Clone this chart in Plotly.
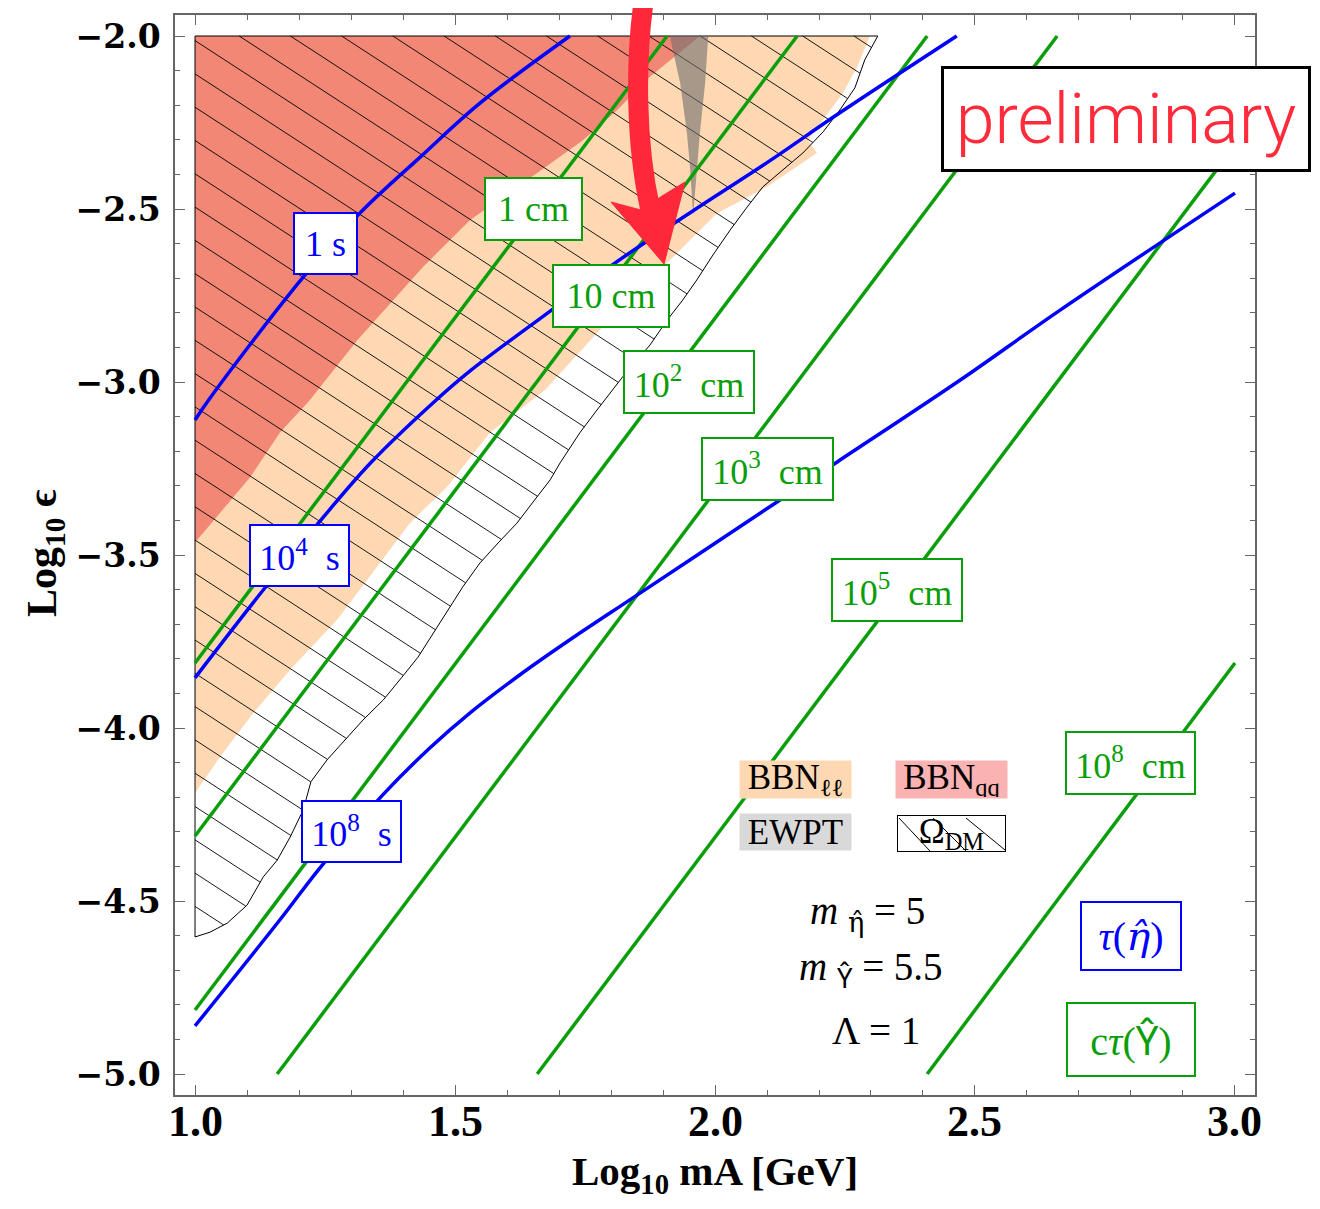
import numpy as np
import plotly.graph_objects as go

# ---------------- figure geometry ----------------
# the page body has an 8px margin, so the figure is 16px smaller than the window
OFF = 8
W, H = 1320 - 2 * OFF, 1209 - 2 * OFF
PLOT_L, PLOT_T, PLOT_W, PLOT_H = 175, 15, 1080, 1080   # plot area in window pixels
ML, MT = PLOT_L - OFF, PLOT_T - OFF
MR, MB = W - ML - PLOT_W, H - MT - PLOT_H

x_range = [0.9615, 3.0385]
y_range = [-5.0607, -1.9393]

# ---------------- data ----------------
# BBN_ll excluded region (peach)
bbn_ll_x = [1.0, 2.298, 2.273, 2.246, 2.217, 2.179, 2.196, 2.100, 2.004, 1.927, 1.875, 1.817,
            1.760, 1.673, 1.567, 1.485, 1.413, 1.350, 1.273, 1.183, 1.112, 1.048, 1.0]
bbn_ll_y = [-2.0, -2.0, -2.090, -2.165, -2.223, -2.301, -2.338, -2.436, -2.512, -2.627, -2.705, -2.786,
            -2.879, -3.023, -3.147, -3.303, -3.408, -3.535, -3.688, -3.832, -3.957, -4.084, -4.188]

# BBN_qq excluded region (salmon)
bbn_qq_x = [1.0, 1.971, 1.875, 1.812, 1.746, 1.658, 1.529, 1.438, 1.312, 1.221, 1.163, 1.106, 1.004, 1.0]
bbn_qq_y = [-2.0, -2.0, -2.118, -2.214, -2.301, -2.396, -2.532, -2.668, -2.879, -3.052, -3.147, -3.275, -3.457, -3.460]

# EWPT sliver (gray)
ewpt_x = [1.913, 1.933, 1.946, 1.952, 1.958, 1.965, 1.971, 1.981, 1.987]
ewpt_y = [-2.0, -2.136, -2.280, -2.379, -2.517, -2.379, -2.280, -2.136, -2.0]

# Omega_DM region (hatched)
odm_x = [1.0, 2.313, 2.288, 2.269, 2.240, 2.208, 2.169, 2.131, 2.092, 2.062, 2.029, 1.996, 1.965,
         1.938, 1.908, 1.875, 1.821, 1.773, 1.740, 1.702, 1.683, 1.650, 1.619, 1.583, 1.548, 1.515,
         1.487, 1.458, 1.429, 1.398, 1.362, 1.323, 1.288, 1.254, 1.223, 1.208, 1.183, 1.158, 1.131,
         1.100, 1.062, 1.029, 1.0]
odm_y = [-2.0, -2.0, -2.069, -2.150, -2.214, -2.277, -2.338, -2.387, -2.436, -2.494, -2.561, -2.633,
         -2.705, -2.763, -2.821, -2.893, -2.988, -3.081, -3.147, -3.234, -3.283, -3.347, -3.408, -3.465,
         -3.523, -3.592, -3.659, -3.725, -3.795, -3.853, -3.919, -3.977, -4.035, -4.092, -4.155, -4.237,
         -4.315, -4.382, -4.431, -4.512, -4.564, -4.590, -4.604]

# c*tau(Upsilon) contours (green straight lines): endpoints
ctau_names = ["1\u00a0cm", "10\u00a0cm", "10<sup>2</sup>\u00a0 cm", "10<sup>3</sup>\u00a0 cm",
              "10<sup>5</sup>\u00a0 cm", "10<sup>8</sup>\u00a0 cm"]
ctau_x0 = [1.0, 1.0, 1.0, 1.158, 1.658, 2.408]
ctau_y0 = [-3.812, -4.312, -4.815, -5.0, -5.0, -5.0]
ctau_x1 = [1.908, 2.158, 2.408, 2.658, 3.0, 3.0]
ctau_y1 = [-2.0, -2.0, -2.0, -2.0, -2.316, -3.812]
ctau_lab_x = [1.65, 1.80, 1.95, 2.10, 2.35, 2.80]
ctau_lab_y = [-2.50, -2.75, -3.00, -3.25, -3.60, -4.10]
ctau_lab_w = [99, 118, 132, 133, 132, 131]

# tau(eta) contours (blue curves)
tau_names = ["1\u00a0s", "10<sup>4</sup>\u00a0 s", "10<sup>8</sup>\u00a0 s"]
tau1_x = [1.0, 1.029, 1.208, 1.317, 1.433, 1.548, 1.721]
tau1_y = [-3.110, -3.046, -2.697, -2.512, -2.350, -2.194, -2.0]
tau4_x = [1.0, 1.135, 1.246, 1.337, 1.458, 1.529, 1.683, 1.804, 1.958, 2.100, 2.240, 2.465]
tau4_y = [-3.855, -3.594, -3.392, -3.235, -3.060, -2.968, -2.795, -2.660, -2.505, -2.366, -2.222, -2.0]
tau8_x = [1.0, 1.163, 1.240, 1.362, 1.452, 1.529, 1.625, 1.721, 1.850, 2.112, 2.235, 2.471, 2.663, 3.0]
tau8_y = [-4.861, -4.555, -4.405, -4.192, -4.057, -3.956, -3.846, -3.745, -3.616, -3.354, -3.231, -2.995, -2.793, -2.454]
tau_lab_x = [1.25, 1.20, 1.30]
tau_lab_y = [-2.60, -3.50, -4.30]
tau_lab_w = [65, 101, 101]

x_ticks = [1.0, 1.5, 2.0, 2.5, 3.0]
y_ticks = [-5.0, -4.5, -4.0, -3.5, -3.0, -2.5, -2.0]

# ---------------- styles ----------------
GREEN = "#0a9e0a"
BLUE = "#0000ff"
PEACH = "rgb(253,216,178)"
SALMON = "rgb(242,135,118)"
SERIF = "Liberation Serif"
HAT_LC = '<span style="font-family:DejaVu Serif">{}</span>'
HAT_UC = '<span style="font-family:Noto Sans">{}</span>'


def paper(px, py):
    """window pixel -> paper coordinates"""
    return (px - PLOT_L) / PLOT_W, (PLOT_T + PLOT_H - py) / PLOT_H


def hatch(xs, ys, slope, b_ref, step):
    xs = np.asarray(xs, float)
    ys = np.asarray(ys, float)
    c = ys - slope * (xs - 1.0)
    kmin = int(np.floor((c.min() - b_ref) / step)) - 1
    kmax = int(np.ceil((c.max() - b_ref) / step)) + 1
    sx, sy = [], []
    n = len(xs)
    for k in range(kmin, kmax + 1):
        b = b_ref + k * step
        g = c - b
        xi = []
        for i in range(n):
            j = (i + 1) % n
            if (g[i] > 0) != (g[j] > 0):
                t = g[i] / (g[i] - g[j])
                xi.append(xs[i] + t * (xs[j] - xs[i]))
        xi.sort()
        for a, e in zip(xi[0::2], xi[1::2]):
            sx += [a, e, None]
            sy += [b + slope * (a - 1.0), b + slope * (e - 1.0), None]
    return sx, sy


fig = go.Figure()

fig.add_trace(go.Scatter(x=bbn_ll_x, y=bbn_ll_y, fill="toself", fillcolor=PEACH,
                         mode="lines", line=dict(width=0), hoverinfo="skip"))
fig.add_trace(go.Scatter(x=bbn_qq_x, y=bbn_qq_y, fill="toself", fillcolor=SALMON,
                         mode="lines", line=dict(width=0), hoverinfo="skip"))

# hatch lines (about 0.65 px down per px right, 33 px apart vertically)
xspan = x_range[1] - x_range[0]
yspan = y_range[1] - y_range[0]
h_slope = -0.65 * (PLOT_W / xspan) / (PLOT_H / yspan)
h_step = 33.3 / (PLOT_H / yspan)
hx, hy = hatch(odm_x, odm_y, h_slope, -3.457, h_step)
fig.add_trace(go.Scatter(x=hx, y=hy, mode="lines", line=dict(color="black", width=0.9),
                         hoverinfo="skip"))
fig.add_trace(go.Scatter(x=odm_x + [odm_x[0]], y=odm_y + [odm_y[0]], mode="lines",
                         line=dict(color="black", width=1), hoverinfo="skip"))

fig.add_trace(go.Scatter(x=ewpt_x, y=ewpt_y, fill="toself", fillcolor="rgba(110,110,110,0.6)",
                         mode="lines", line=dict(width=0), hoverinfo="skip"))

for i in range(len(ctau_names)):
    fig.add_trace(go.Scatter(x=[ctau_x0[i], ctau_x1[i]], y=[ctau_y0[i], ctau_y1[i]], mode="lines",
                             line=dict(color=GREEN, width=3.5), hoverinfo="skip"))

for tx, ty in [(tau1_x, tau1_y), (tau4_x, tau4_y), (tau8_x, tau8_y)]:
    fig.add_trace(go.Scatter(x=tx, y=ty, mode="lines",
                             line=dict(color=BLUE, width=3.5, shape="spline", smoothing=1.0),
                             hoverinfo="skip"))

annotations = []
for i, name in enumerate(ctau_names):
    annotations.append(dict(x=ctau_lab_x[i], y=ctau_lab_y[i], xref="x", yref="y", text=name,
                            showarrow=False, font=dict(family=SERIF, size=36, color=GREEN),
                            bgcolor="white", bordercolor=GREEN, borderwidth=2, borderpad=0,
                            width=ctau_lab_w[i] - 4, height=60))
for i, name in enumerate(tau_names):
    annotations.append(dict(x=tau_lab_x[i], y=tau_lab_y[i], xref="x", yref="y", text=name,
                            showarrow=False, font=dict(family=SERIF, size=36, color=BLUE),
                            bgcolor="white", bordercolor=BLUE, borderwidth=2, borderpad=0,
                            width=tau_lab_w[i] - 4, height=59))

# legend-like boxes and parameter text
annotations += [
    dict(x=2.155, y=-4.15, xref="x", yref="y", text="BBN<sub>ℓℓ</sub>", showarrow=False,
         font=dict(family=SERIF, size=35, color="black"), bgcolor=PEACH, width=109, height=35),
    dict(x=2.455, y=-4.15, xref="x", yref="y", text="BBN<sub>qq</sub>", showarrow=False,
         font=dict(family=SERIF, size=35, color="black"), bgcolor="rgb(250,178,178)", width=109, height=35),
    dict(x=2.155, y=-4.30, xref="x", yref="y", text="EWPT", showarrow=False,
         font=dict(family=SERIF, size=35, color="black"), bgcolor="rgb(217,217,217)", width=109, height=34),
    dict(x=2.455, y=-4.305, xref="x", yref="y", text="Ω<sub>DM</sub>", showarrow=False,
         font=dict(family=SERIF, size=35, color="black"), bgcolor="rgba(0,0,0,0)", bordercolor="black",
         borderwidth=1, borderpad=0, width=107, height=35),
    dict(x=2.294, y=-4.535, xref="x", yref="y", text="<i>m</i> <sub>" + HAT_LC.format("η̂") + "</sub> = 5",
         showarrow=False, font=dict(family=SERIF, size=39, color="black")),
    dict(x=2.300, y=-4.700, xref="x", yref="y", text="<i>m</i> <sub>" + HAT_UC.format("Υ̂") + "</sub> = 5.5",
         showarrow=False, font=dict(family=SERIF, size=39, color="black")),
    dict(x=2.310, y=-4.873, xref="x", yref="y", text="Λ = 1", showarrow=False,
         font=dict(family=SERIF, size=39, color="black")),
    dict(x=2.80, y=-4.60, xref="x", yref="y", text="<i>τ</i>(" + HAT_LC.format("<i>η̂</i>") + ")",
         showarrow=False, font=dict(family=SERIF, size=40, color=BLUE), bgcolor="white",
         bordercolor=BLUE, borderwidth=2, borderpad=0, width=98, height=66),
    dict(x=2.80, y=-4.90, xref="x", yref="y", text="c<i>τ</i>(" + HAT_UC.format("Υ̂") + ")",
         showarrow=False, font=dict(family=SERIF, size=40, color=GREEN), bgcolor="white",
         bordercolor=GREEN, borderwidth=2, borderpad=0, width=126, height=71),
]

# x tick labels as annotations (placed exactly under the ticks)
for v in x_ticks:
    _, yy = paper(0, 1121)
    annotations.append(dict(x=v, y=yy, xref="x", yref="paper", text=f"<b>{v:.1f}</b>",
                            showarrow=False, xanchor="center", yanchor="middle",
                            font=dict(family=SERIF, size=44, color="black")))

# preliminary stamp
px_, py_ = paper(1126, 119)
annotations.append(dict(x=px_, y=py_, xref="paper", yref="paper", text="preliminary", showarrow=False,
                        font=dict(family="Roboto Light, Lato Light, Liberation Sans", size=70,
                                  color="#ff2b3b", weight=300),
                        bgcolor="white", bordercolor="black", borderwidth=3, borderpad=0,
                        width=364, height=100, xanchor="center", yanchor="middle"))

# axis titles
tx_, ty_ = paper(45, 553)
annotations.append(dict(x=tx_, y=ty_, xref="paper", yref="paper", text="<b>Log<sub>10</sub> ϵ</b>",
                        textangle=-90, showarrow=False, xanchor="center", yanchor="middle",
                        font=dict(family=SERIF, size=42, color="black")))
tx_, ty_ = paper(715, 1174)
annotations.append(dict(x=tx_, y=ty_, xref="paper", yref="paper",
                        text="<b>Log<sub>10</sub> mA [GeV]</b>", showarrow=False,
                        xanchor="center", yanchor="middle",
                        font=dict(family=SERIF, size=41, color="black")))

# shapes: red arrow + hatch in legend box
shapes = []


def P(px, py):
    a, b = paper(px, py)
    return f"{a:.5f},{b:.5f}"


RED = "rgb(255,40,58)"
shapes.append(dict(type="path", xref="paper", yref="paper",
                   path=f"M {P(643,6)} C {P(636,60)} {P(635,140)} {P(650,208)}",
                   line=dict(color=RED, width=20), layer="above"))
shapes.append(dict(type="path", xref="paper", yref="paper",
                   path=f"M {P(611,202)} L {P(641,210)} L {P(662,196)} L {P(685,182)} L {P(664,264)} Z",
                   fillcolor=RED, line=dict(color=RED, width=1), layer="above"))
for (x0, y0, x1, y1) in [(899, 818, 930, 851), (933, 818, 966, 851), (966, 818, 1005, 850)]:
    a0, b0 = paper(x0, y0)
    a1, b1 = paper(x1, y1)
    shapes.append(dict(type="line", xref="paper", yref="paper", x0=a0, y0=b0, x1=a1, y1=b1,
                       line=dict(color="black", width=1), layer="above"))

axis_common = dict(showgrid=False, zeroline=False, showline=True, linecolor="#666666", linewidth=1.5,
                   mirror="allticks", ticks="inside", ticklen=10, tickwidth=1.2, tickcolor="#666666")

fig.update_layout(
    width=W, height=H,
    margin=dict(l=ML, r=MR, t=MT, b=MB, autoexpand=False),
    plot_bgcolor="white", paper_bgcolor="white",
    showlegend=False,
    xaxis=dict(range=x_range, tickvals=x_ticks, showticklabels=False,
               minor=dict(tick0=1.0, dtick=0.1, ticks="inside", ticklen=5, tickcolor="#666666"),
               **axis_common),
    yaxis=dict(range=y_range, tickvals=y_ticks, ticktext=[f"−{abs(v):.1f}" for v in y_ticks],
               tickfont=dict(family="DejaVu Serif", size=33, color="black", weight="bold"),
               ticklabelstandoff=6,
               minor=dict(tick0=-5.0, dtick=0.1, ticks="inside", ticklen=5, tickcolor="#666666"),
               **axis_common),
    annotations=annotations,
    shapes=shapes,
)

fig.write_html("out.html")
